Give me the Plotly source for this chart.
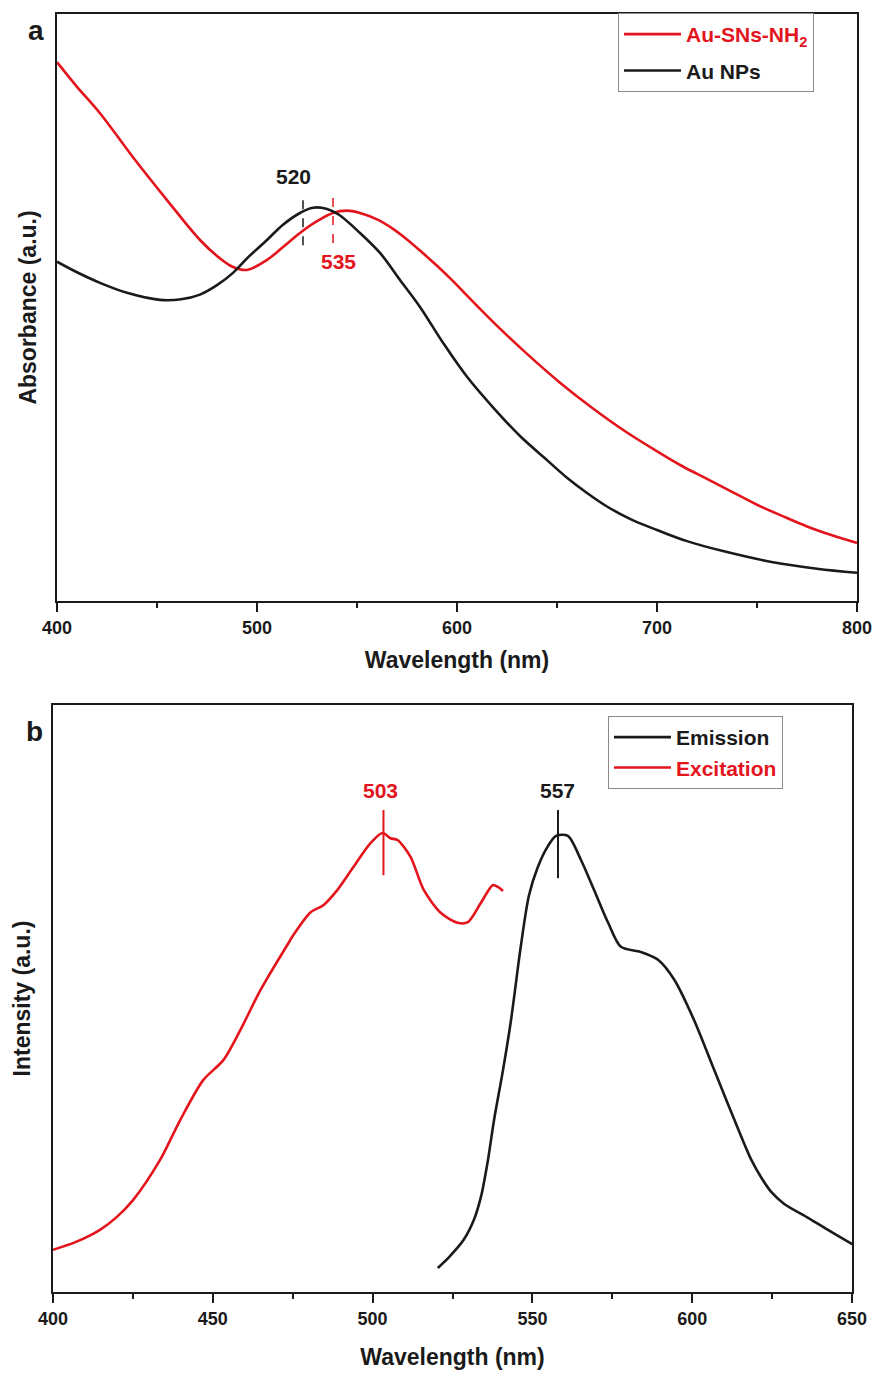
import plotly.graph_objects as go

# ---------------- Panel a: UV-vis absorbance (normalised a.u.) ----------------
wl_au_sns = [400, 410, 421.5, 438, 455, 471.5, 481, 488, 495, 505, 513, 521.5, 530, 538,
             545, 551.5, 560, 568, 575, 581.5, 590, 596.5, 610, 621.5, 635, 651.5, 668, 685,
             701.5, 712.5, 725, 737.5, 750, 762.5, 775, 787.5, 800]
abs_au_sns = [0.918, 0.876, 0.831, 0.756, 0.683, 0.615, 0.585, 0.569, 0.564, 0.581, 0.603,
              0.627, 0.647, 0.661, 0.665, 0.661, 0.650, 0.634, 0.616, 0.597, 0.571, 0.550,
              0.503, 0.464, 0.421, 0.372, 0.328, 0.287, 0.252, 0.230, 0.208, 0.186, 0.164,
              0.145, 0.127, 0.112, 0.099]

wl_au_np = [400, 410, 421.5, 435, 451.5, 462, 471.5, 480, 488, 496, 505, 513, 521.5, 528,
            535, 541, 551.5, 561.5, 571.5, 581.5, 593, 605, 618, 631.5, 645, 655, 665, 675,
            687, 700, 715, 733, 758, 780, 800]
abs_au_np = [0.578, 0.560, 0.542, 0.525, 0.513, 0.514, 0.522, 0.538, 0.559, 0.587, 0.615,
             0.641, 0.661, 0.670, 0.668, 0.658, 0.627, 0.593, 0.547, 0.501, 0.440, 0.382,
             0.330, 0.281, 0.240, 0.210, 0.184, 0.161, 0.139, 0.121, 0.102, 0.085, 0.066,
             0.055, 0.048]

# ---------------- Panel b: fluorescence intensity (normalised a.u.) ----------------
wl_exc = [400, 407, 414.7, 420, 425.1, 433.5, 439.8, 447, 453.3, 458.6, 464, 467.1, 473.4,
          475.2, 480.6, 484.6, 489, 494, 499.4, 503.1, 505.6, 507.8, 511.9, 516, 521.3,
          526.6, 529.8, 533.9, 537.6, 539.2, 540.8]
int_exc = [0.072, 0.085, 0.106, 0.128, 0.157, 0.225, 0.293, 0.361, 0.395, 0.446, 0.505,
           0.535, 0.592, 0.608, 0.647, 0.659, 0.685, 0.724, 0.765, 0.782, 0.773, 0.770,
           0.741, 0.685, 0.646, 0.629, 0.630, 0.663, 0.693, 0.690, 0.683]

wl_em = [520.4, 524, 528.5, 531.7, 533.9, 536.1, 538, 540.8, 543.3, 546.4, 548.9, 551.7,
         554.9, 557.4, 561.1, 565.2, 569.3, 573.7, 577.7, 584, 589.3, 594.4, 600.6, 606.9,
         615.4, 618.5, 621.6, 624.8, 628.8, 636.4, 643, 650.5]
int_em = [0.041, 0.060, 0.089, 0.123, 0.162, 0.225, 0.293, 0.378, 0.463, 0.590, 0.675,
          0.724, 0.760, 0.777, 0.777, 0.736, 0.685, 0.629, 0.588, 0.579, 0.566, 0.532,
          0.463, 0.378, 0.264, 0.225, 0.195, 0.170, 0.150, 0.126, 0.104, 0.080]

# peak markers: (wavelength, label, label_x, label_y, line_y0, line_y1)
peaks_a = [(523, "520", 518, 0.724, 0.606, 0.692), (538, "535", 540.5, 0.578, 0.610, 0.688)]
peaks_b = [(503.4, "503", 502.5, 0.855, 0.710, 0.821), (558, "557", 558, 0.855, 0.705, 0.821)]

RED = "#e3141c"
BLACK = "#1a1a1a"
FONT = "Liberation Sans"

W, H = 875, 1374


def px(x):
    return x / W


def py(y):
    return 1 - y / H


fig = go.Figure()

line_a = dict(width=2.6, shape="spline", smoothing=1.0)
fig.add_trace(go.Scatter(x=wl_au_sns, y=abs_au_sns, mode="lines", line=dict(color=RED, **line_a),
                         name=f"<span style='color:{RED}'>Au-SNs-NH<sub>2</sub></span>",
                         xaxis="x", yaxis="y", legend="legend", legendgroup="a1"))
fig.add_trace(go.Scatter(x=wl_au_np, y=abs_au_np, mode="lines", line=dict(color=BLACK, **line_a),
                         name="Au NPs", xaxis="x", yaxis="y", legend="legend", legendgroup="a2"))

line_b = dict(width=2.6, shape="spline", smoothing=0.8)
fig.add_trace(go.Scatter(x=wl_em, y=int_em, mode="lines", line=dict(color=BLACK, **line_b),
                         name="Emission", xaxis="x2", yaxis="y2", legend="legend2", legendgroup="b1"))
fig.add_trace(go.Scatter(x=wl_exc, y=int_exc, mode="lines", line=dict(color=RED, **line_b),
                         name=f"<span style='color:{RED}'>Excitation</span>",
                         xaxis="x2", yaxis="y2", legend="legend2", legendgroup="b2"))

shapes = []
annotations = []
for (wl, lab, lx, ly, y0, y1), col in zip(peaks_a, [BLACK, RED]):
    shapes.append(dict(type="line", xref="x", yref="y", x0=wl, x1=wl, y0=y0, y1=y1,
                       line=dict(color=col, width=1.5, dash="dash")))
    annotations.append(dict(xref="x", yref="y", x=lx, y=ly, text=lab, showarrow=False,
                            font=dict(family=FONT, size=21, color=col, weight="bold")))
for (wl, lab, lx, ly, y0, y1), col in zip(peaks_b, [RED, BLACK]):
    shapes.append(dict(type="line", xref="x2", yref="y2", x0=wl, x1=wl, y0=y0, y1=y1,
                       line=dict(color=col, width=2)))
    annotations.append(dict(xref="x2", yref="y2", x=lx, y=ly, text=lab, showarrow=False,
                            font=dict(family=FONT, size=21, color=col, weight="bold")))

# panel letters
annotations.append(dict(xref="paper", yref="paper", x=px(36), y=py(30), xanchor="center", yanchor="middle",
                        text="a", showarrow=False, font=dict(family=FONT, size=28, color=BLACK, weight="bold")))
annotations.append(dict(xref="paper", yref="paper", x=px(34), y=py(731), xanchor="center", yanchor="middle",
                        text="b", showarrow=False, font=dict(family=FONT, size=28, color=BLACK, weight="bold")))

tickfont = dict(family=FONT, size=18, color=BLACK, weight="bold")
titlefont = dict(family=FONT, size=23, color=BLACK, weight="bold")

common_x = dict(showline=True, linecolor=BLACK, linewidth=2, mirror=True, ticks="outside",
                ticklen=9, tickwidth=2, tickcolor=BLACK, showgrid=False, zeroline=False,
                tickfont=tickfont, automargin=False)
common_y = dict(showline=True, linecolor=BLACK, linewidth=2, mirror=True, ticks="",
                showticklabels=False, showgrid=False, zeroline=False, range=[0, 1], automargin=False)

legend_common = dict(xanchor="left", yanchor="top", bgcolor="white", bordercolor="#8a8a8a",
                     borderwidth=1, traceorder="grouped",
                     font=dict(family=FONT, size=21, color=BLACK, weight="bold"), itemwidth=57)

fig.update_layout(
    width=W, height=H,
    margin=dict(l=0, r=0, t=0, b=0),
    paper_bgcolor="white", plot_bgcolor="white",
    xaxis=dict(domain=[px(57), px(857)], anchor="y", range=[400, 800], dtick=100,
               minor=dict(dtick=50, ticklen=5, tickwidth=2, tickcolor=BLACK, ticks="outside"),
               title=dict(text="Wavelength (nm)", font=titlefont, standoff=15), **common_x),
    yaxis=dict(domain=[py(601), py(14)], anchor="x",
               title=dict(text="Absorbance (a.u.)", font=titlefont, standoff=12), **common_y),
    xaxis2=dict(domain=[px(53), px(852)], anchor="y2", range=[400, 650], dtick=50,
                minor=dict(dtick=25, ticklen=5, tickwidth=2, tickcolor=BLACK, ticks="outside"),
                title=dict(text="Wavelength (nm)", font=titlefont, standoff=21), **common_x),
    yaxis2=dict(domain=[py(1292), py(705)], anchor="x2",
                title=dict(text="Intensity (a.u.)", font=titlefont, standoff=14), **common_y),
    legend=dict(x=px(618), y=py(13), tracegroupgap=6, **legend_common),
    legend2=dict(x=px(608), y=py(716), tracegroupgap=0, **legend_common),
    shapes=shapes,
    annotations=annotations,
)

fig.write_html("out.html")
